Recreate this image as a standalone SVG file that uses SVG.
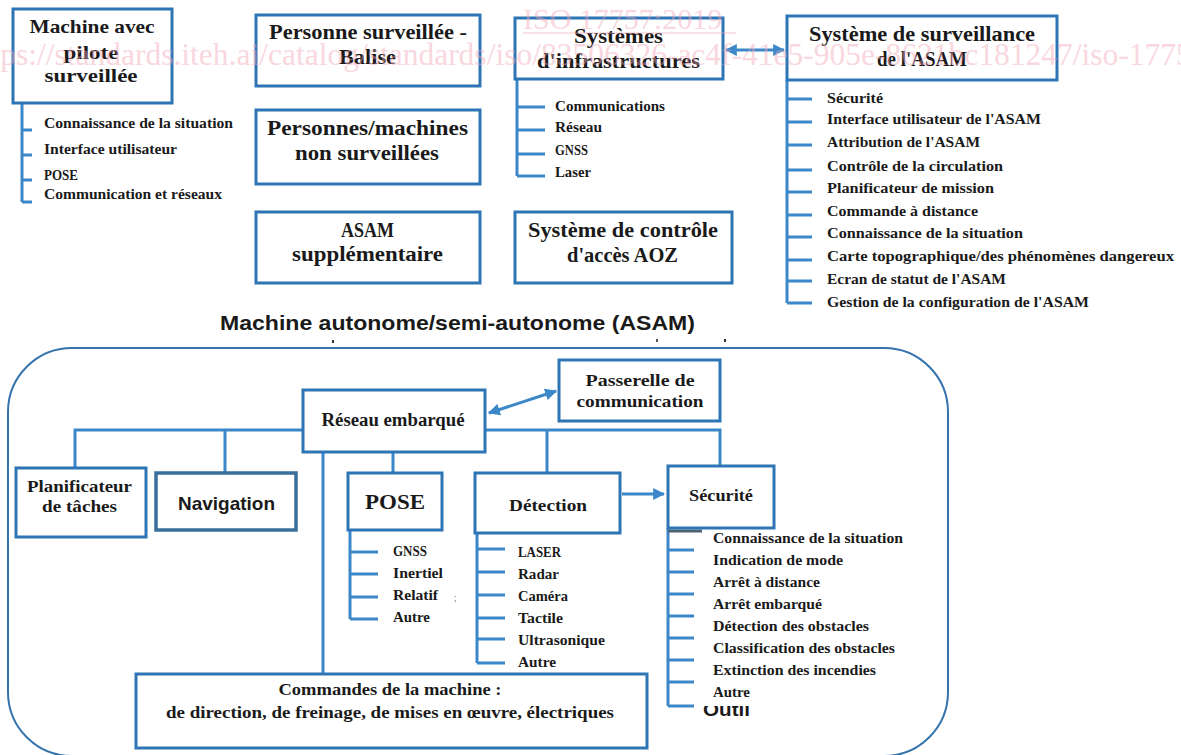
<svg xmlns="http://www.w3.org/2000/svg" width="1181" height="755" viewBox="0 0 1181 755">
<style>
.box{fill:#fff;stroke:#2e75b6;stroke-width:3}
.nav{fill:#fff;stroke:#3a6f9c;stroke-width:3.5}
.t{font-family:"Liberation Serif","Times New Roman",serif;font-weight:bold;fill:#1a1a1a;text-anchor:middle}
.s{font-family:"Liberation Sans",Arial,sans-serif;font-weight:bold;fill:#1a1a1a;text-anchor:middle}
.li{font-family:"Liberation Serif","Times New Roman",serif;font-weight:bold;fill:#1a1a1a;font-size:14.5px}
.c{fill:none;stroke:#3b87c8;stroke-width:3}
.frame{fill:none;stroke:#3573ad;stroke-width:2}
.wm{font-family:"Liberation Serif","Times New Roman",serif;fill:#f2a7b8;opacity:0.45}
</style>
<defs>
<marker id="ah" viewBox="0 0 10 10" refX="9" refY="5" markerWidth="4" markerHeight="4" orient="auto-start-reverse" markerUnits="strokeWidth">
<path d="M0,0 L10,5 L0,10 z" fill="#3b87c8"/>
</marker>
<clipPath id="cut"><rect x="700" y="706" width="70" height="12"/></clipPath>
</defs>
<rect width="1181" height="755" fill="#fff"/>

<rect class="frame" x="8" y="348" width="940" height="408" rx="64" ry="64"/>

<g id="connectors">
<path class="c" d="M22,103 V202 M22,130 H32 M22,155 H32 M22,180 H32 M22,202 H32"/>
<path class="c" d="M517,79 V176 M517,107 H545 M517,130 H545 M517,154 H545 M517,176 H545"/>
<path class="c" d="M787,80 V303 M787,99 H812 M787,122 H812 M787,145 H812 M787,170 H812 M787,192 H812 M787,215 H812 M787,237 H812 M787,260 H812 M787,281 H812 M787,303 H812"/>
<line class="c" x1="726" y1="50" x2="784" y2="50" marker-start="url(#ah)" marker-end="url(#ah)"/>
<path class="c" d="M75,468 V430 H303 M225,430 V473 M485,430 H720 V466 M547,430 V473 M323,452 V675 M393,452 V473"/>
<line class="c" x1="489" y1="413" x2="556" y2="391" marker-start="url(#ah)" marker-end="url(#ah)"/>
<line class="c" x1="622" y1="494" x2="664" y2="494" marker-end="url(#ah)"/>
<path class="c" d="M350,530 V619 M350,552 H378 M350,574 H378 M350,597 H378 M350,619 H378"/>
<path class="c" d="M477,533 V663 M477,549 H505 M477,572 H505 M477,595 H505 M477,618 H505 M477,639 H505 M477,663 H505"/>
<path class="c" d="M668,528 V706 M668,550 H694 M668,572 H694 M668,594 H694 M668,616 H694 M668,638 H694 M668,660 H694 M668,682 H694 M668,706 H694"/>
<line x1="668" y1="531" x2="702" y2="531" stroke="#4b6274" stroke-width="3"/>
</g>

<g id="n1">
<rect class="box" x="13" y="9" width="159" height="94"/>
<text class="t" font-size="19" x="92" y="33" textLength="125" lengthAdjust="spacingAndGlyphs">Machine avec</text>
<text class="t" font-size="19" x="91" y="59" textLength="55" lengthAdjust="spacingAndGlyphs">pilote</text>
<text class="t" font-size="19" x="91" y="82" textLength="93" lengthAdjust="spacingAndGlyphs">surveillée</text>
<text class="li" x="44" y="128" textLength="189" lengthAdjust="spacingAndGlyphs">Connaissance de la situation</text>
<text class="li" x="44" y="154" textLength="133" lengthAdjust="spacingAndGlyphs">Interface utilisateur</text>
<text class="li" x="44" y="180" textLength="34" lengthAdjust="spacingAndGlyphs">POSE</text>
<text class="li" x="44" y="199" textLength="178" lengthAdjust="spacingAndGlyphs">Communication et réseaux</text>
</g>

<g id="n2">
<rect class="box" x="256" y="15" width="224" height="71"/>
<text class="t" font-size="20" x="368" y="39" textLength="198" lengthAdjust="spacingAndGlyphs">Personne surveillée -</text>
<text class="t" font-size="20" x="367.5" y="64" textLength="57" lengthAdjust="spacingAndGlyphs">Balise</text>
</g>

<g id="n3">
<rect class="box" x="256" y="110" width="224" height="74"/>
<text class="t" font-size="20" x="367.5" y="135" textLength="201" lengthAdjust="spacingAndGlyphs">Personnes/machines</text>
<text class="t" font-size="20" x="367" y="160" textLength="144" lengthAdjust="spacingAndGlyphs">non surveillées</text>
</g>

<g id="n4">
<rect class="box" x="256" y="212" width="224" height="71"/>
<text class="t" font-size="20" x="367.5" y="237" textLength="53" lengthAdjust="spacingAndGlyphs">ASAM</text>
<text class="t" font-size="20" x="367.5" y="261" textLength="151" lengthAdjust="spacingAndGlyphs">supplémentaire</text>
</g>

<g id="n5">
<rect class="box" x="515" y="18" width="208" height="61"/>
<text class="t" font-size="20" x="618.5" y="43" textLength="89" lengthAdjust="spacingAndGlyphs">Systèmes</text>
<text class="t" font-size="20" x="618.5" y="68" textLength="163" lengthAdjust="spacingAndGlyphs">d'infrastructures</text>
<text class="li" x="555" y="111" textLength="110" lengthAdjust="spacingAndGlyphs">Communications</text>
<text class="li" x="555" y="132" textLength="47" lengthAdjust="spacingAndGlyphs">Réseau</text>
<text class="li" x="555" y="155" textLength="33" lengthAdjust="spacingAndGlyphs">GNSS</text>
<text class="li" x="555" y="177" textLength="36" lengthAdjust="spacingAndGlyphs">Laser</text>
</g>

<g id="n6">
<rect class="box" x="515" y="212" width="217" height="71"/>
<text class="t" font-size="20" x="623" y="237" textLength="190" lengthAdjust="spacingAndGlyphs">Système de contrôle</text>
<text class="t" font-size="20" x="622.5" y="262" textLength="111" lengthAdjust="spacingAndGlyphs">d'accès AOZ</text>
</g>

<g id="n7">
<rect class="box" x="787" y="16" width="270" height="64"/>
<text class="t" font-size="20" x="922" y="41" textLength="226" lengthAdjust="spacingAndGlyphs">Système de surveillance</text>
<text class="t" font-size="20" x="922" y="66" textLength="90" lengthAdjust="spacingAndGlyphs">de l'ASAM</text>
<text class="li" x="827" y="103" textLength="56" lengthAdjust="spacingAndGlyphs">Sécurité</text>
<text class="li" x="827" y="124" textLength="214" lengthAdjust="spacingAndGlyphs">Interface utilisateur de l'ASAM</text>
<text class="li" x="827" y="147" textLength="153" lengthAdjust="spacingAndGlyphs">Attribution de l'ASAM</text>
<text class="li" x="827" y="171" textLength="176" lengthAdjust="spacingAndGlyphs">Contrôle de la circulation</text>
<text class="li" x="827" y="193" textLength="167" lengthAdjust="spacingAndGlyphs">Planificateur de mission</text>
<text class="li" x="827" y="216" textLength="151" lengthAdjust="spacingAndGlyphs">Commande à distance</text>
<text class="li" x="827" y="238" textLength="196" lengthAdjust="spacingAndGlyphs">Connaissance de la situation</text>
<text class="li" x="827" y="261" textLength="347" lengthAdjust="spacingAndGlyphs">Carte topographique/des phénomènes dangereux</text>
<text class="li" x="827" y="284" textLength="179" lengthAdjust="spacingAndGlyphs">Ecran de statut de l'ASAM</text>
<text class="li" x="827" y="307" textLength="262" lengthAdjust="spacingAndGlyphs">Gestion de la configuration de l'ASAM</text>
</g>

<g id="title">
<text class="s" font-size="21" x="457.5" y="330" textLength="475" lengthAdjust="spacingAndGlyphs">Machine autonome/semi-autonome (ASAM)</text>
<rect x="332" y="340" width="2" height="3" fill="#333"/>
<rect x="656" y="339" width="2" height="3" fill="#555"/>
<rect x="724" y="339" width="2" height="3" fill="#333"/>
</g>

<g id="reseau">
<rect class="box" x="303" y="390" width="182" height="62"/>
<text class="t" font-size="18" x="393" y="426" textLength="143" lengthAdjust="spacingAndGlyphs">Réseau embarqué</text>
</g>

<g id="passerelle">
<rect class="box" x="559" y="360" width="161" height="61"/>
<text class="t" font-size="17" x="640" y="386" textLength="109" lengthAdjust="spacingAndGlyphs">Passerelle de</text>
<text class="t" font-size="17" x="640" y="407" textLength="127" lengthAdjust="spacingAndGlyphs">communication</text>
</g>

<g id="planificateur">
<rect class="box" x="16" y="468" width="130" height="69"/>
<text class="t" font-size="17" x="79.5" y="492" textLength="105" lengthAdjust="spacingAndGlyphs">Planificateur</text>
<text class="t" font-size="17" x="79.5" y="512" textLength="75" lengthAdjust="spacingAndGlyphs">de tâches</text>
</g>

<g id="navigation">
<rect class="nav" x="156" y="473" width="140" height="57"/>
<text class="s" font-size="19" x="226.5" y="510" textLength="97" lengthAdjust="spacingAndGlyphs">Navigation</text>
</g>

<g id="pose">
<rect class="box" x="348" y="473" width="94" height="57"/>
<text class="t" font-size="20" x="395" y="509" textLength="60" lengthAdjust="spacingAndGlyphs">POSE</text>
<text class="li" x="393" y="556" textLength="34" lengthAdjust="spacingAndGlyphs">GNSS</text>
<text class="li" x="393" y="578" textLength="50" lengthAdjust="spacingAndGlyphs">Inertiel</text>
<text class="li" x="393" y="600" textLength="45" lengthAdjust="spacingAndGlyphs">Relatif</text>
<text class="li" x="393" y="622" textLength="37" lengthAdjust="spacingAndGlyphs">Autre</text>
<text x="454" y="601" font-family="Liberation Sans, sans-serif" font-size="9" fill="#666">;</text>
</g>

<g id="detection">
<rect class="box" x="475" y="473" width="145" height="60"/>
<text class="t" font-size="17" x="548" y="511" textLength="78" lengthAdjust="spacingAndGlyphs">Détection</text>
<text class="li" x="518" y="557" textLength="43" lengthAdjust="spacingAndGlyphs">LASER</text>
<text class="li" x="518" y="579" textLength="41" lengthAdjust="spacingAndGlyphs">Radar</text>
<text class="li" x="518" y="601" textLength="50" lengthAdjust="spacingAndGlyphs">Caméra</text>
<text class="li" x="518" y="623" textLength="45" lengthAdjust="spacingAndGlyphs">Tactile</text>
<text class="li" x="518" y="645" textLength="87" lengthAdjust="spacingAndGlyphs">Ultrasonique</text>
<text class="li" x="518" y="667" textLength="38" lengthAdjust="spacingAndGlyphs">Autre</text>
</g>

<g id="securite">
<rect class="box" x="668" y="466" width="106" height="62"/>
<text class="t" font-size="17" x="721" y="501" textLength="64" lengthAdjust="spacingAndGlyphs">Sécurité</text>
<text class="li" x="713" y="543" textLength="190" lengthAdjust="spacingAndGlyphs">Connaissance de la situation</text>
<text class="li" x="713" y="565" textLength="130" lengthAdjust="spacingAndGlyphs">Indication de mode</text>
<text class="li" x="713" y="587" textLength="107" lengthAdjust="spacingAndGlyphs">Arrêt à distance</text>
<text class="li" x="713" y="609" textLength="109" lengthAdjust="spacingAndGlyphs">Arrêt embarqué</text>
<text class="li" x="713" y="631" textLength="156" lengthAdjust="spacingAndGlyphs">Détection des obstacles</text>
<text class="li" x="713" y="653" textLength="182" lengthAdjust="spacingAndGlyphs">Classification des obstacles</text>
<text class="li" x="713" y="675" textLength="163" lengthAdjust="spacingAndGlyphs">Extinction des incendies</text>
<text class="li" x="713" y="697" textLength="37" lengthAdjust="spacingAndGlyphs">Autre</text>
<text clip-path="url(#cut)" x="703" y="716" font-family="Liberation Sans, Arial, sans-serif" font-weight="bold" font-size="19" fill="#1a1a1a" textLength="47" lengthAdjust="spacingAndGlyphs">Outil</text>
</g>

<g id="commandes">
<rect class="box" x="136" y="674" width="511" height="74"/>
<text class="t" font-size="17" x="390" y="695" textLength="223" lengthAdjust="spacingAndGlyphs">Commandes de la machine :</text>
<text class="t" font-size="17" x="390" y="718" textLength="448" lengthAdjust="spacingAndGlyphs">de direction, de freinage, de mises en œuvre, électriques</text>
</g>

<g id="watermark">
<text class="wm" font-size="30" x="523" y="29">ISO 17757:2019</text>
<line x1="523" y1="33" x2="736" y2="33" stroke="#f2a7b8" stroke-width="1.5" opacity="0.45"/>
<text class="wm" font-size="31.5" x="-33" y="65">https://standards.iteh.ai/catalog/standards/iso/83506326-ac4f-41e5-905e-8621bc181247/iso-17757-2019</text>
</g>
</svg>
